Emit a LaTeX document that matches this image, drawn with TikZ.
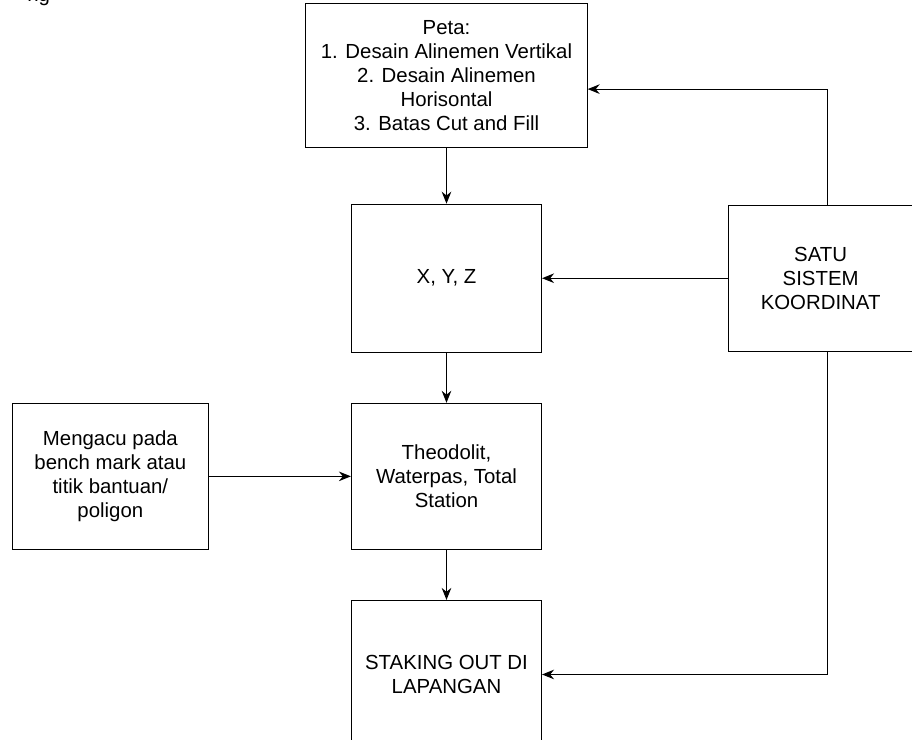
\documentclass[tikz,border=0pt]{standalone}
\usepackage{fontspec}
\setmainfont{Liberation Sans}
\usetikzlibrary{arrows.meta, positioning, calc}

\begin{document}
\begin{tikzpicture}[
  node distance=1.25cm,
  block/.style={rectangle, draw=black, line width=0.8pt,
                minimum width=4.75cm, minimum height=3.65cm,
                font=\fontsize{14.5}{17}\selectfont, align=center},
  arrow/.style={-{Stealth[length=3mm, width=2.4mm]}, line width=0.8pt},
]
\useasboundingbox (-11.1625,1.8875) rectangle (11.6375,-16.6125);
\clip (-11.1625,1.8875) rectangle (11.6375,-16.6125);

% Page fragment
\node[anchor=base east, font=\fontsize{14.5}{17}\selectfont] (pagetext) at (-9.79,1.84) {ng};

% Main column
\node[block, minimum width=7.03cm, minimum height=3.58cm] (peta) {Peta:\\1. Desain Alinemen Vertikal\\2. Desain Alinemen\\Horisontal\\3. Batas Cut and Fill};
\node[block, below=1.4cm of peta, minimum height=3.7cm] (xyz) {X, Y, Z};
\node[block, below=of xyz] (theo) {Theodolit,\\Waterpas, Total\\Station};
\node[block, below=of theo, minimum height=3.7cm] (staking) {STAKING OUT DI\\LAPANGAN};

% Side boxes
\node[block, left=3.55cm of theo, minimum width=4.9cm] (mengacu) {Mengacu pada\\bench mark atau\\titik bantuan/\\poligon};
\node[block, right=4.65cm of xyz, minimum width=4.6cm] (satu) {SATU\\SISTEM\\KOORDINAT};

\draw[arrow] (peta) -- (xyz);
\draw[arrow] (xyz) -- (theo);
\draw[arrow] (theo) -- (staking);
\draw[arrow] (mengacu) -- (theo);
\draw[arrow] (satu) -- (xyz);
\draw[arrow] ([xshift=0.18cm]satu.north) |- ([yshift=-0.34cm]peta.east);
\draw[arrow] ([xshift=0.18cm]satu.south) |- (staking.east);

\end{tikzpicture}
\end{document}
